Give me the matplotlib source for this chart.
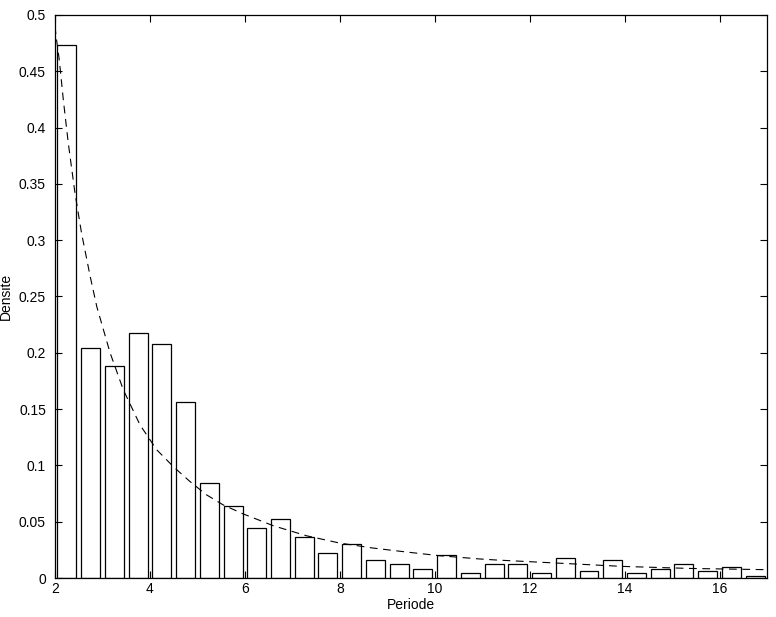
import matplotlib
matplotlib.use("Agg")
import matplotlib.pyplot as plt

centers = [2.25 + 0.5 * i for i in range(30)]
density = [0.473, 0.204, 0.188, 0.2175, 0.208, 0.156, 0.0843, 0.0639, 0.0444, 0.0524,
           0.0364, 0.0222, 0.0302, 0.016, 0.0124, 0.008, 0.0201, 0.0041, 0.0124, 0.0124,
           0.0041, 0.0178, 0.0059, 0.016, 0.0041, 0.008, 0.0124, 0.0059, 0.0101, 0.0018]

fit_x = [2.0, 2.02, 2.09, 2.175, 2.28, 2.42, 2.56, 2.74, 2.88, 3.16, 3.44, 3.79, 4.14, 4.49,
         4.84, 5.19, 5.54, 5.96, 6.6, 7.3, 8.0, 8.7, 9.4, 10.1, 10.95, 11.29, 12.56,
         13.96, 15.37, 16.98]
fit_y = [0.49, 0.482, 0.46, 0.4246, 0.386, 0.342, 0.306, 0.268, 0.241, 0.2, 0.167, 0.136,
         0.114, 0.099, 0.0858, 0.0739, 0.065, 0.057, 0.0464, 0.0375, 0.031, 0.0266,
         0.0231, 0.0198, 0.0169, 0.016, 0.0133, 0.0103, 0.0085, 0.0074]

xticks = [2, 4, 6, 8, 10, 12, 14, 16]
yticks = [0, 0.05, 0.1, 0.15, 0.2, 0.25, 0.3, 0.35, 0.4, 0.45, 0.5]
ytick_labels = ["0", "0.05", "0.1", "0.15", "0.2", "0.25", "0.3", "0.35", "0.4", "0.45", "0.5"]

plt.rcParams['font.family'] = ['Liberation Sans', 'DejaVu Sans']

fig = plt.figure(figsize=(7.76, 6.17), dpi=100)
ax = fig.add_axes([0.0709, 0.0632, 0.9175, 0.9125])

ax.bar(centers, density, width=0.4, color='white', edgecolor='black', linewidth=0.9)
ax.plot(fit_x, fit_y, color='black', linewidth=0.8, linestyle=(0, (7, 5)))

ax.set_xlim(2, 17)
ax.set_ylim(0, 0.5)
ax.set_xticks(xticks)
ax.set_xticklabels([str(t) for t in xticks])
ax.set_yticks(yticks)
ax.set_yticklabels(ytick_labels)
ax.tick_params(direction='in', length=5, width=0.8, top=True, right=True,
               labelsize=10)
ax.tick_params(axis='y', pad=6.5)
ax.tick_params(axis='x', pad=3)
for s in ax.spines.values():
    s.set_linewidth(0.9)

ax.set_xlabel("Periode", fontsize=10, labelpad=1)
ax.set_ylabel("Densite", fontsize=10, labelpad=4)

fig.savefig("out.png", dpi=100)
